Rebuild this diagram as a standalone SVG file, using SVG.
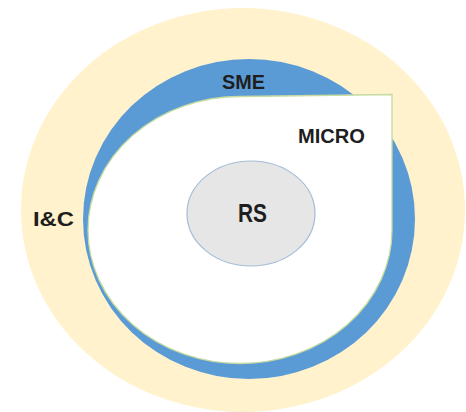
<svg xmlns="http://www.w3.org/2000/svg" width="466" height="412" viewBox="0 0 466 412">
<style>
.lbl{font-family:"Liberation Sans",Arial,sans-serif;font-weight:bold;fill:#1e1e1e}
</style>
<rect width="466" height="412" fill="#ffffff"/>
<g id="ic">
<ellipse cx="243" cy="210" rx="222" ry="202" fill="#fff2cc"/>
<text class="lbl" x="33" y="225.5" font-size="19.5" textLength="41" lengthAdjust="spacingAndGlyphs">I&amp;C</text>
</g>
<g id="sme">
<ellipse cx="249" cy="219" rx="166" ry="160" fill="#5b9bd5"/>
<text class="lbl" x="222" y="89" font-size="20" textLength="43" lengthAdjust="spacingAndGlyphs">SME</text>
</g>
<g id="micro">
<path d="M240 96.5 A152 133.5 0 1 0 392 230 L392 94.5 L240 96.5 Z" fill="#ffffff" stroke="#c5dba0" stroke-width="1.3"/>
<text class="lbl" x="298" y="143" font-size="20" textLength="67" lengthAdjust="spacingAndGlyphs">MICRO</text>
</g>
<g id="rs">
<ellipse cx="251" cy="213.5" rx="64" ry="52.5" fill="#e6e6e6" stroke="#a4bcd6" stroke-width="1.2"/>
<text class="lbl" x="238" y="222" font-size="25" textLength="29" lengthAdjust="spacingAndGlyphs">RS</text>
</g>
<g id="connectors"></g>
</svg>
